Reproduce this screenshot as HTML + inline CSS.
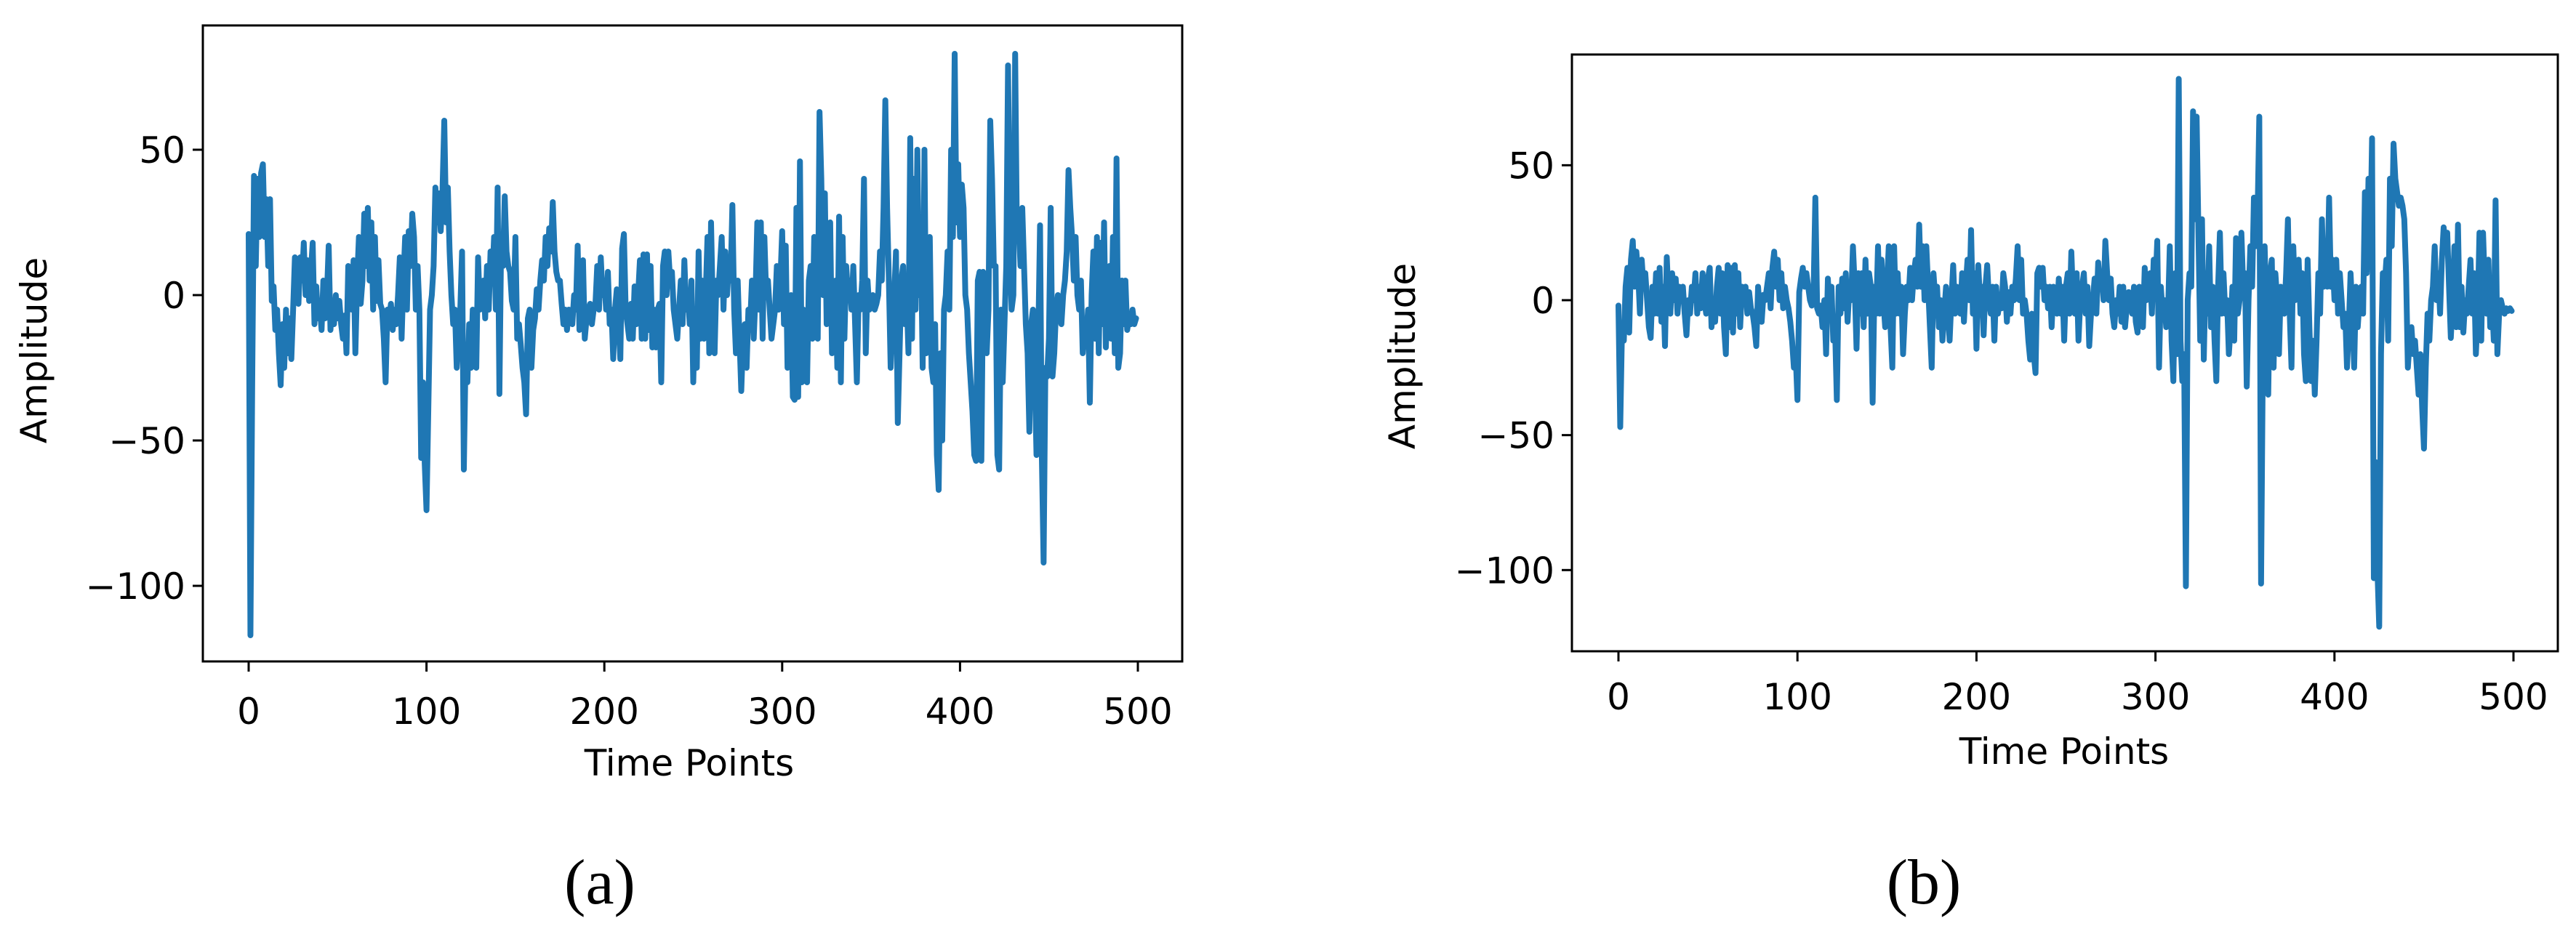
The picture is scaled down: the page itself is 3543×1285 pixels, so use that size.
<!DOCTYPE html>
<html><head><meta charset="utf-8"><style>
html,body{margin:0;padding:0;background:#fff;}
svg{display:block;}
text{font-family:"DejaVu Sans","Liberation Sans",sans-serif;fill:#000;}
.cap{font-family:"Liberation Serif",serif;}
</style></head><body>
<svg id="fig" width="3543" height="1285" viewBox="0 0 3543 1285" xmlns="http://www.w3.org/2000/svg">
<rect x="0" y="0" width="3543" height="1285" fill="#fff"/>
<g id="chartA"></g>
<g id="chartB"></g>
<text class="cap" x="825" y="1243" font-size="88" text-anchor="middle">(a)</text>
<text class="cap" x="2646" y="1243" font-size="88" text-anchor="middle">(b)</text>
</svg>
<script>
const xTicks = [0,100,200,300,400,500];
const yTicks = [50,0,-50,-100];
const yTickLabels = ["50","0","\u221250","\u2212100"];
const seriesA = [21,-117,-30,41,10,40,20,42,45,20,33,10,33,-2,3,-12,-5,-20,-31,-10,-25,-5,-20,-8,-22,-5,13,5,-3,13,5,18,0,12,-2,8,18,-10,3,-8,-4,-12,5,-8,0,17,-12,-3,-10,0,-8,-2,-10,-15,-7,-20,10,0,-5,12,-20,5,20,-3,5,28,10,30,5,25,-5,20,-2,12,-3,-5,-15,-30,-5,-8,-3,-12,-5,-10,0,13,-15,5,20,-5,22,10,28,20,-5,10,-5,-56,-30,-58,-74,-40,-5,0,10,37,25,35,22,36,60,25,37,15,0,-10,-5,-25,-15,-5,15,-60,-20,-30,-10,-25,-5,-20,
-25,13,-5,-3,5,-8,10,-5,15,5,20,-5,37,-34,20,10,34,15,10,8,-2,-5,20,-15,-10,-17,-25,-30,-41,-8,-5,-25,-12,-8,2,-5,5,12,5,20,10,23,15,32,15,8,5,5,-3,-10,-5,-12,-5,-8,-10,0,-5,17,-12,-5,12,-15,-8,-5,-3,-10,-5,-3,10,-5,13,0,5,-5,8,-10,-5,-22,-5,2,-10,-22,16,21,-5,-10,-15,-3,-15,3,-10,0,12,-15,14,-15,14,-12,10,-18,-5,-18,-5,-3,-30,10,15,0,15,5,8,-5,-10,-15,-5,5,-10,12,-5,0,-10,5,-30,-5,
-25,15,-15,5,-15,0,20,-20,25,-5,-20,5,0,10,20,-5,15,0,10,5,31,-5,-20,5,-15,-33,-15,-10,-25,-5,-10,5,-15,0,25,-5,25,-15,20,0,5,-5,-15,-10,-5,10,-5,5,22,-10,17,-25,-10,0,-35,-36,30,-35,46,-30,-5,-20,-30,5,10,-15,20,-5,-15,63,40,0,35,-10,10,25,-20,0,5,-25,27,-30,20,-15,10,0,5,-5,10,-10,-30,0,-5,5,40,-20,5,-5,-3,0,-5,-3,0,15,5,30,67,30,5,-25,-10,0,15,-44,-20,5,10,-10,0,-20,54,-15,40,-5,
50,0,20,-25,50,-20,0,20,-25,-30,-10,-55,-67,-20,-50,-5,0,15,-5,50,20,83,25,45,20,38,30,0,-5,-20,-30,-40,-55,-57,5,8,-57,8,-10,-20,-5,60,40,10,10,-55,-60,-5,-30,-10,10,79,20,-5,0,83,20,25,10,30,10,-10,-20,-47,-10,-5,-25,-55,-15,24,-55,-92,-25,-28,-15,30,-28,-20,-5,0,-5,-10,0,5,15,43,30,20,5,20,0,-5,5,-20,-10,-15,-5,-37,0,15,-15,20,-20,18,-10,25,-18,0,10,-15,20,-20,47,-25,-20,5,-10,5,-12,-8,-10,-5,-10,-8];
const seriesB = [-2,-47,-10,-15,5,12,-12,15,22,5,18,10,-5,15,5,10,0,-10,-14,5,-5,10,-5,12,-8,5,-17,16,0,-5,10,0,8,-5,5,0,5,-5,-13,0,-5,5,0,10,-5,5,-3,10,0,-5,8,12,-10,0,-8,5,12,-5,10,-10,-20,13,-10,12,-12,13,-5,10,-10,5,0,5,-5,3,-3,-5,-10,-17,5,-5,-8,2,0,5,10,-3,12,18,5,15,0,10,-3,5,0,-3,-8,-15,-25,-20,-37,3,8,12,5,10,5,0,-2,3,38,-3,-5,-2,-10,0,-20,8,-5,5,-15,-10,-37,
5,-5,8,-3,10,-8,5,0,20,5,-18,10,-5,10,-10,15,-5,10,5,-38,5,-5,20,-5,15,0,-10,5,20,-10,-25,20,-5,10,-5,5,-20,-5,5,0,12,0,10,15,5,28,5,20,0,20,5,-10,-25,10,0,5,-10,0,-15,-5,5,-3,-15,0,13,-5,5,0,-5,10,-8,5,15,0,26,-5,10,-18,13,0,5,-13,5,13,0,-5,5,-15,5,-5,0,-3,10,5,-8,3,-5,5,0,8,20,0,15,-5,0,-5,-15,-22,-5,-20,-27,10,12,5,12,0,5,-3,5,-10,5,0,-5,8,-5,
5,-15,5,10,-5,18,0,-5,10,-15,0,5,10,-5,5,-17,-5,0,8,-5,14,5,10,0,22,10,0,8,-5,-10,0,-5,5,-8,5,-10,-2,3,0,-5,5,-8,-12,5,-5,-10,12,0,5,10,-5,15,5,22,-25,5,-5,0,-10,-5,20,-15,-30,10,-20,82,-15,-30,-20,-106,0,10,5,70,30,68,25,-15,30,-22,10,-5,20,-10,5,-15,-30,5,25,-5,10,-5,0,-20,-10,5,-15,23,-5,0,25,5,10,-32,0,20,5,38,20,30,68,-105,-20,20,-5,-35,10,15,-25,10,0,-20,5,0,-5,10,
30,-5,-25,20,0,5,15,-5,10,-20,-30,15,-10,-30,-15,-35,-15,10,-5,30,5,20,5,38,5,15,0,15,-5,10,0,-10,-5,-25,-10,10,-5,-25,5,-10,0,5,-5,40,10,45,20,60,-103,-60,-100,-121,-20,10,5,15,-15,45,20,58,45,40,35,38,35,30,10,-25,-15,-10,-20,-15,-25,-35,-20,-40,-55,-25,-5,-15,0,5,20,0,10,-5,15,27,20,25,5,-14,0,20,-10,28,-10,5,-12,0,-5,5,15,-5,10,-20,-5,25,-15,25,5,-5,15,-10,0,-15,37,-20,-5,0,-3,-5,-3,-4,-3,-4];

const NS='http://www.w3.org/2000/svg';
function mk(tag, attrs, parent){const e=document.createElementNS(NS,tag);for(const k in attrs)e.setAttribute(k,attrs[k]);parent.appendChild(e);return e;}

function drawChart(g, data, cfg){
  const xs = t => cfg.x0 + t*(cfg.x500-cfg.x0)/500;
  const ys = v => cfg.y0 - v*cfg.ppu;
  let d='';
  data.forEach((v,i)=>{d+=(i?'L':'M')+xs(i).toFixed(2)+' '+ys(v).toFixed(2);});
  const line = mk('path',{d:d,fill:'none',stroke:'#1f77b4','stroke-width':8,'stroke-linejoin':'round','stroke-linecap':'round'},g);
  
  
  const fr = mk('rect',{x:cfg.fl,y:cfg.ft,width:cfg.fr-cfg.fl,height:cfg.fb-cfg.ft,fill:'none',stroke:'#000','stroke-width':3},g);
  
  
  xTicks.forEach(t=>{
    const x=xs(t);
    const tk=mk('line',{x1:x,y1:cfg.fb,x2:x,y2:cfg.fb+14,stroke:'#000','stroke-width':3},g);
    
    
    const lb=mk('text',{x:x,y:cfg.xly,'font-size':50,'text-anchor':'middle'},g);
    lb.textContent=String(t);
    
    
  });
  yTicks.forEach((v,i)=>{
    const y=ys(v);
    const tk=mk('line',{x1:cfg.fl-14,y1:y,x2:cfg.fl,y2:y,stroke:'#000','stroke-width':3},g);
    
    
    const lb=mk('text',{x:cfg.fl-24,y:y+18,'font-size':50,'text-anchor':'end'},g);
    lb.textContent=yTickLabels[i];
    
    
  });
  const xt=mk('text',{x:cfg.xtx,y:cfg.xty,'font-size':50,'text-anchor':'middle'},g);
  xt.textContent='Time Points';
  
  
  const yt=mk('text',{x:0,y:0,'font-size':50,'text-anchor':'middle',transform:'translate('+cfg.ytx+','+cfg.yty+') rotate(-90)'},g);
  yt.textContent='Amplitude';
  
  
}

drawChart(document.getElementById('chartA'), seriesA,
  {name:'chart-a',x0:342,x500:1565,y0:406,ppu:4.0,fl:279,fr:1626,ft:35,fb:910,xly:996,xtx:948,xty:1067,ytx:64,yty:482});
drawChart(document.getElementById('chartB'), seriesB,
  {name:'chart-b',x0:2226,x500:3457,y0:413,ppu:3.713,fl:2162,fr:3518,ft:75,fb:896,xly:976,xtx:2839,xty:1051,ytx:1946,yty:490});
</script>
</body></html>
